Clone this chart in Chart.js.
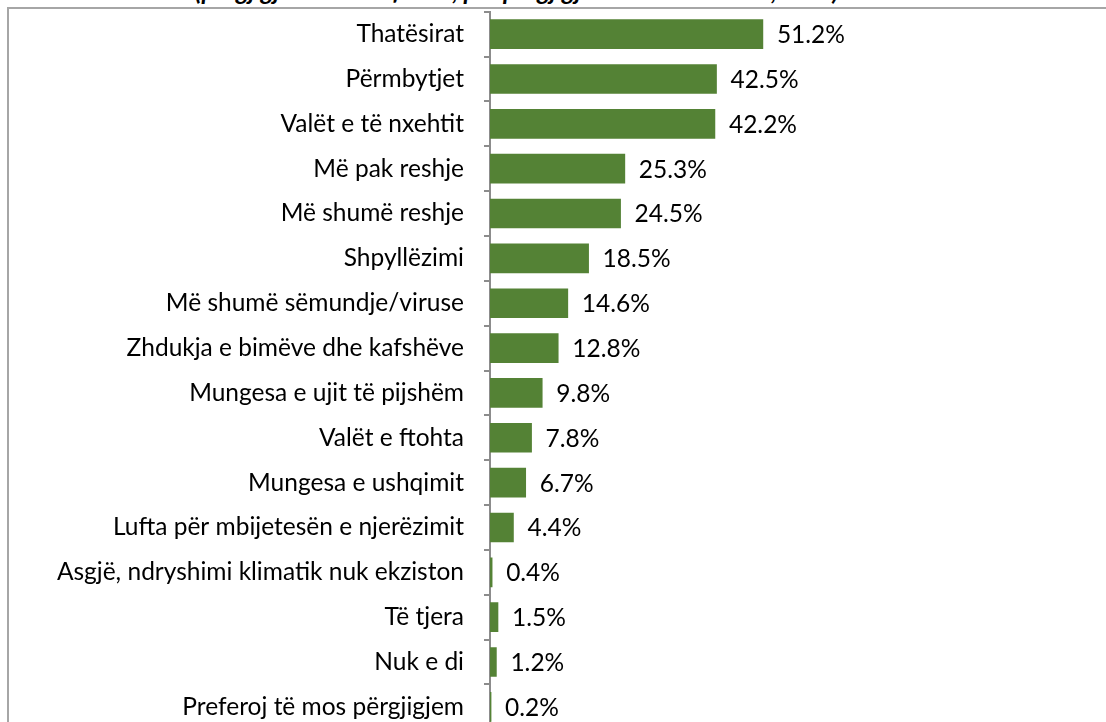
<!DOCTYPE html>
<html>
  <head>
    <title>Chart</title>
    <script src="https://cdn.jsdelivr.net/npm/chart.js"></script>
    <style>
      html, body { margin: 0; padding: 0; background: #fff; overflow: hidden; }
      #page { position: relative; width: 1106px; height: 722px; overflow: hidden; }
      #title { position: absolute; left: 0; top: 0; width: 1106px; height: 7px; overflow: hidden; }
      #title span { position: absolute; left: 195px; top: -25px; white-space: nowrap;
        font: italic bold 25px Lato, "Liberation Sans", sans-serif; color: #000; }
      #frame { position: absolute; left: 7px; top: 7px; width: 1200px; height: 800px;
        border-left: 2px solid #a6a6a6; border-top: 2px solid #a6a6a6; }
      #wrap { position: absolute; left: 0; top: -23px; width: 1106px; height: 787px; }
    </style>
  </head>
  <body>
    <div id="page">
      <div id="title"><span>(përgjigje të shumëfishta, për përgjigjet e të anketuarve, në %)</span></div>
      <div id="frame"></div>
      <div id="wrap"><canvas id="chart"></canvas></div>
    </div>
    <script>
const categories = [
  'Thatësirat',
  'Përmbytjet',
  'Valët e të nxehtit',
  'Më pak reshje',
  'Më shumë reshje',
  'Shpyllëzimi',
  'Më shumë sëmundje/viruse',
  'Zhdukja e bimëve dhe kafshëve',
  'Mungesa e ujit të pijshëm',
  'Valët e ftohta',
  'Mungesa e ushqimit',
  'Lufta për mbijetesën e njerëzimit',
  'Asgjë, ndryshimi klimatik nuk ekziston',
  'Të tjera',
  'Nuk e di',
  'Preferoj të mos përgjigjem'
];
const percentages = [51.2, 42.5, 42.2, 25.3, 24.5, 18.5, 14.6, 12.8, 9.8, 7.8, 6.7, 4.4, 0.4, 1.5, 1.2, 0.2];

const fontFamily = 'Lato, "Liberation Sans", sans-serif';
const fontSize = 24.5;

// value labels right of each bar
const valueLabels = {
  id: 'valueLabels',
  afterDatasetsDraw(chart) {
    const ctx = chart.ctx;
    const meta = chart.getDatasetMeta(0);
    ctx.save();
    ctx.font = fontSize + 'px ' + fontFamily;
    ctx.fillStyle = '#000';
    ctx.textAlign = 'left';
    ctx.textBaseline = 'middle';
    meta.data.forEach((bar, i) => {
      ctx.fillText(percentages[i].toFixed(1) + '%', bar.x + 14, bar.y + 1);
    });
    ctx.restore();
  }
};

new Chart(document.getElementById('chart'), {
  type: 'bar',
  data: {
    labels: categories,
    datasets: [{
      data: percentages,
      backgroundColor: '#548235',
      borderWidth: 0,
      barThickness: 29
    }]
  },
  options: {
    indexAxis: 'y',
    responsive: true,
    maintainAspectRatio: false,
    animation: false,
    layout: { padding: { top: 10, bottom: 12, left: 0, right: 83 } },
    plugins: { legend: { display: false }, tooltip: { enabled: false } },
    scales: {
      x: { display: false, min: 0, max: 100 },
      y: {
        afterFit(axis) { axis.width = 490; },
        border: { color: '#8c8c8c', width: 2 },
        grid: { offset: true, drawOnChartArea: false, tickLength: 6, color: '#8c8c8c', lineWidth: 2 },
        ticks: {
          color: '#000',
          padding: 20,
          font: { family: fontFamily, size: fontSize }
        }
      }
    }
  },
  plugins: [valueLabels]
});
    </script>
  </body>
</html>
